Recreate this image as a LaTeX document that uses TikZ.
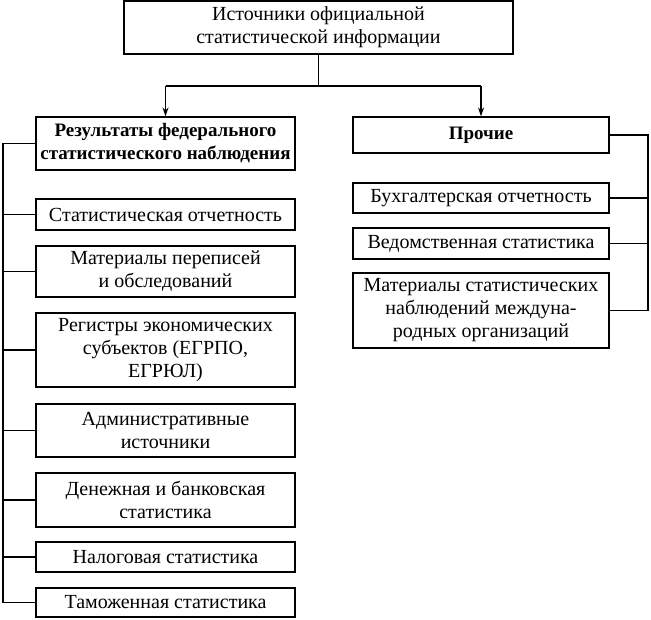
\documentclass[tikz,border=0pt]{standalone}
\usepackage{fontspec}
\setmainfont{Liberation Serif}
\usetikzlibrary{arrows.meta}
\begin{document}
\begin{tikzpicture}[x=1pt,y=-1pt,
  box/.style={draw, line width=1.1pt, align=center, inner sep=0pt,
    font=\fontsize{20}{23}\selectfont},
  bbox/.style={box, font=\fontsize{19}{23}\selectfont\bfseries},
  conn/.style={line width=1.1pt},
  arr/.style={conn, -{Stealth[length=9pt,width=6pt]}}]
\useasboundingbox (0,0) rectangle (651,620);
% top
\node[box, minimum width=389pt, minimum height=53pt] (top) at (318.5,27.5)
  {Источники официальной\\статистической информации};
\node[bbox, minimum width=259pt, minimum height=53pt] (res) at (165.5,143.5)
  {Результаты федерального\\статистического наблюдения};
\node[bbox, minimum width=256pt, minimum height=36pt] (pro) at (481,135)
  {Прочие};
% left children
\node[box, minimum width=259pt, minimum height=31pt] (s1) at (165.5,214.5) {Статистическая отчетность};
\node[box, minimum width=259pt, minimum height=51pt] (s2) at (165.5,271.5) {Материалы переписей\\и обследований};
\node[box, minimum width=259pt, minimum height=74pt] (s3) at (165.5,350) {Регистры экономических\\субъектов (ЕГРПО,\\ЕГРЮЛ)};
\node[box, minimum width=259pt, minimum height=53pt] (s4) at (165.5,430.5) {Административные\\источники};
\node[box, minimum width=259pt, minimum height=54pt] (s5) at (165.5,500) {Денежная и банковская\\статистика};
\node[box, minimum width=259pt, minimum height=30pt] (s6) at (165.5,557) {Налоговая статистика};
\node[box, minimum width=259pt, minimum height=29pt] (s7) at (165.5,602.5) {Таможенная статистика};
% right children
\node[box, minimum width=256pt, minimum height=30pt] (r1) at (481,198) {Бухгалтерская отчетность};
\node[box, minimum width=256pt, minimum height=31pt] (r2) at (481,243.5) {Ведомственная статистика};
\node[box, minimum width=256pt, minimum height=75pt] (r3) at (481,310.5) {Материалы статистических\\наблюдений междуна-\\родных организаций};
% top connectors
\coordinate (hy) at (0,86);
\draw[conn] (top.south) -- (top.south |- hy);
\draw[conn] (res.north |- hy) -- (pro.north |- hy);
\draw[arr] (res.north |- hy) -- (res.north);
\draw[arr] (pro.north |- hy) -- (pro.north);
% left bus
\coordinate (lb) at (3,0);
\draw[conn] (res.west) -- (lb |- res.west) -- (lb |- s7.west) -- (s7.west);
\foreach \n in {s1,s2,s3,s4,s5,s6} \draw[conn] (lb |- \n.west) -- (\n.west);
% right bus
\coordinate (rb) at (648,0);
\draw[conn] (pro.east) -- (rb |- pro.east) -- (rb |- r3.east) -- (r3.east);
\foreach \n in {r1,r2} \draw[conn] (rb |- \n.east) -- (\n.east);
\end{tikzpicture}
\end{document}
